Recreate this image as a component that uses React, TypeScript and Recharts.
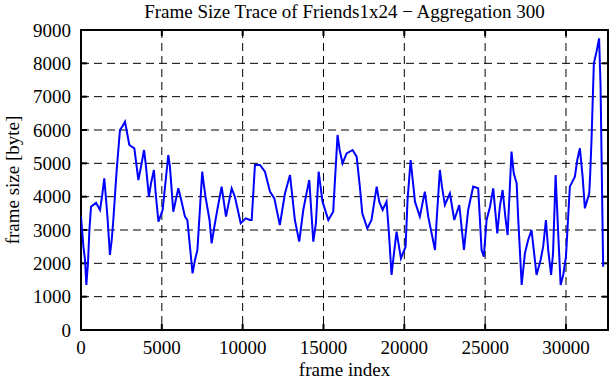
import React from 'react';
import { LineChart, Line, XAxis, YAxis, CartesianGrid, ReferenceLine, ReferenceArea } from 'recharts';

const frameIndex = [
  0, 150, 250, 330, 430, 520, 620, 930, 1175, 1300, 1440, 1520, 1650, 1790, 1900, 2000, 2200, 2410, 2550, 2720,
  2990, 3300, 3550, 3750, 3900, 4000, 4200, 4330, 4510, 4620, 4790, 5050, 5400, 5500, 5710, 6020, 6200, 6430, 6580, 6900,
  7050, 7200, 7500, 7560, 7700, 7950, 8080, 8250, 8430, 8700, 8970, 9320, 9520, 9880, 10190, 10450, 10560, 10760, 11070, 11380,
  11690, 11960, 12300, 12620, 12930, 13230, 13500, 13750, 13950, 14120, 14370, 14530, 14700, 14940, 15300, 15600, 15870, 16000, 16180, 16430,
  16800, 17050, 17250, 17400, 17710, 17970, 18290, 18450, 18660, 18900, 19050, 19210, 19360, 19520, 19790, 20080, 20200, 20390, 20660, 20960,
  21270, 21480, 21690, 21900, 22000, 22200, 22330, 22510, 22820, 23090, 23400, 23690, 23950, 24260, 24570, 24780, 24920, 25090, 25300, 25500,
  25750, 25910, 26080, 26260, 26390, 26630, 26770, 26950, 27050, 27260, 27460, 27660, 27870, 28180, 28430, 28590, 28760, 28900, 29080, 29200,
  29360, 29520, 29670, 29830, 30000, 30080, 30240, 30550, 30700, 30860, 31030, 31170, 31440, 31500, 31580, 31725, 31890, 32050, 32140, 32300,
];

const frameSize = [
  3400, 2500, 2100, 1350, 2000, 3000, 3700, 3820, 3600, 4000, 4550, 4100, 3300, 2250, 2700, 3300, 4750, 6000, 6100, 6250,
  5550, 5450, 4500, 5000, 5400, 5000, 4000, 4400, 4800, 4100, 3250, 3600, 5250, 4900, 3550, 4250, 3900, 3400, 3300, 1700,
  2100, 2400, 4750, 4500, 4000, 3300, 2600, 3100, 3600, 4300, 3400, 4250, 4000, 3200, 3350, 3300, 3300, 4950, 4950, 4750,
  4150, 3950, 3150, 4100, 4650, 3300, 2650, 3600, 4100, 4500, 2650, 3200, 4750, 3850, 3300, 3550, 5850, 5400, 5000, 5300,
  5400, 5200, 4300, 3500, 3050, 3300, 4300, 3850, 3600, 3850, 2900, 1650, 2300, 2950, 2150, 2500, 3900, 5100, 3850, 3400,
  4150, 3400, 2900, 2400, 3300, 4800, 4300, 3750, 4100, 3300, 3750, 2400, 3600, 4300, 4250, 2400, 2200, 3300, 3700, 4250,
  2900, 3700, 4200, 3350, 2850, 5350, 4700, 4400, 3300, 1350, 2300, 2700, 3000, 1650, 2100, 2500, 3300, 2400, 1650, 2300,
  4650, 2900, 1350, 1650, 2200, 2900, 4300, 4600, 5100, 5450, 4600, 3650, 4100, 4700, 5700, 8000, 8350, 8750, 7300, 1900,
];

const xTicks = [0, 5000, 10000, 15000, 20000, 25000, 30000];
const yTicks = [0, 1000, 2000, 3000, 4000, 5000, 6000, 7000, 8000, 9000];
const X_MAX = 32600;
const Y_MAX = 9000;

const data = frameIndex.map((f, i) => ({ frame: f, size: frameSize[i] }));

const W = 611;
const H = 380;
const M_TOP = 30;
const M_RIGHT = 3;
const Y_AXIS_W = 81;
const X_AXIS_H = 50;
const PLOT_W = W - M_RIGHT - Y_AXIS_W;
const PLOT_H = H - M_TOP - X_AXIS_H;
const TICK_PX = 6;
const tickLenX = (TICK_PX * X_MAX) / PLOT_W;
const tickLenY = (TICK_PX * Y_MAX) / PLOT_H;

const FONT = "'Liberation Serif', 'Times New Roman', serif";
const FS = 19;

export default function App() {
  return (
    <div style={{ position: 'absolute', left: 0, top: 0, width: W, height: H, background: '#fff', fontFamily: FONT }}>
      <div
        style={{
          position: 'absolute', left: Y_AXIS_W, width: PLOT_W, top: 0, height: 24, lineHeight: '24px',
          textAlign: 'center', fontSize: FS, color: '#000', whiteSpace: 'nowrap',
        }}
      >
        Frame Size Trace of Friends1x24 − Aggregation 300
      </div>
      <div
        style={{
          position: 'absolute', left: 13, top: M_TOP + PLOT_H / 2, transform: 'translate(-50%, -50%) rotate(-90deg)',
          fontSize: FS, color: '#000', whiteSpace: 'nowrap', lineHeight: '20px',
        }}
      >
        frame size [byte]
      </div>
      <div
        style={{
          position: 'absolute', left: Y_AXIS_W + PLOT_W / 2, top: 370, transform: 'translate(-50%, -50%)',
          fontSize: FS, color: '#000', whiteSpace: 'nowrap', lineHeight: '20px',
        }}
      >
        frame index
      </div>
      <LineChart
        width={W}
        height={H}
        data={data}
        margin={{ top: M_TOP, right: M_RIGHT, left: 0, bottom: 0 }}
        style={{ position: 'absolute', left: 0, top: 0 }}
      >
        <CartesianGrid stroke="#000" strokeDasharray="8 5" strokeWidth={1} />
        <XAxis
          dataKey="frame"
          type="number"
          domain={[0, X_MAX]}
          ticks={xTicks}
          height={X_AXIS_H}
          axisLine={false}
          tickLine={false}
          tickSize={0}
          tickMargin={11}
          tick={{ fill: '#000', fontSize: FS, fontFamily: FONT }}
          allowDataOverflow
        />
        <YAxis
          type="number"
          domain={[0, Y_MAX]}
          ticks={yTicks}
          width={Y_AXIS_W}
          axisLine={false}
          tickLine={false}
          tickSize={0}
          tickMargin={10}
          tick={{ fill: '#000', fontSize: FS, fontFamily: FONT }}
          allowDataOverflow
        />
        {xTicks.slice(1).map((t) => (
          <ReferenceLine key={'xb' + t} segment={[{ x: t, y: 0 }, { x: t, y: tickLenY }]} stroke="#000" strokeWidth={2} />
        ))}
        {xTicks.slice(1).map((t) => (
          <ReferenceLine key={'xt' + t} segment={[{ x: t, y: Y_MAX - tickLenY }, { x: t, y: Y_MAX }]} stroke="#000" strokeWidth={2} />
        ))}
        {yTicks.slice(1, -1).map((t) => (
          <ReferenceLine key={'yl' + t} segment={[{ x: 0, y: t }, { x: tickLenX, y: t }]} stroke="#000" strokeWidth={2} />
        ))}
        {yTicks.slice(1, -1).map((t) => (
          <ReferenceLine key={'yr' + t} segment={[{ x: X_MAX - tickLenX, y: t }, { x: X_MAX, y: t }]} stroke="#000" strokeWidth={2} />
        ))}
        <Line
          dataKey="size"
          type="linear"
          stroke="#0000ff"
          strokeWidth={2}
          dot={false}
          activeDot={false}
          isAnimationActive={false}
        />
        <ReferenceArea x1={0} x2={X_MAX} y1={0} y2={Y_MAX} fill="none" stroke="#000" strokeWidth={2} fillOpacity={0} />
      </LineChart>
    </div>
  );
}
